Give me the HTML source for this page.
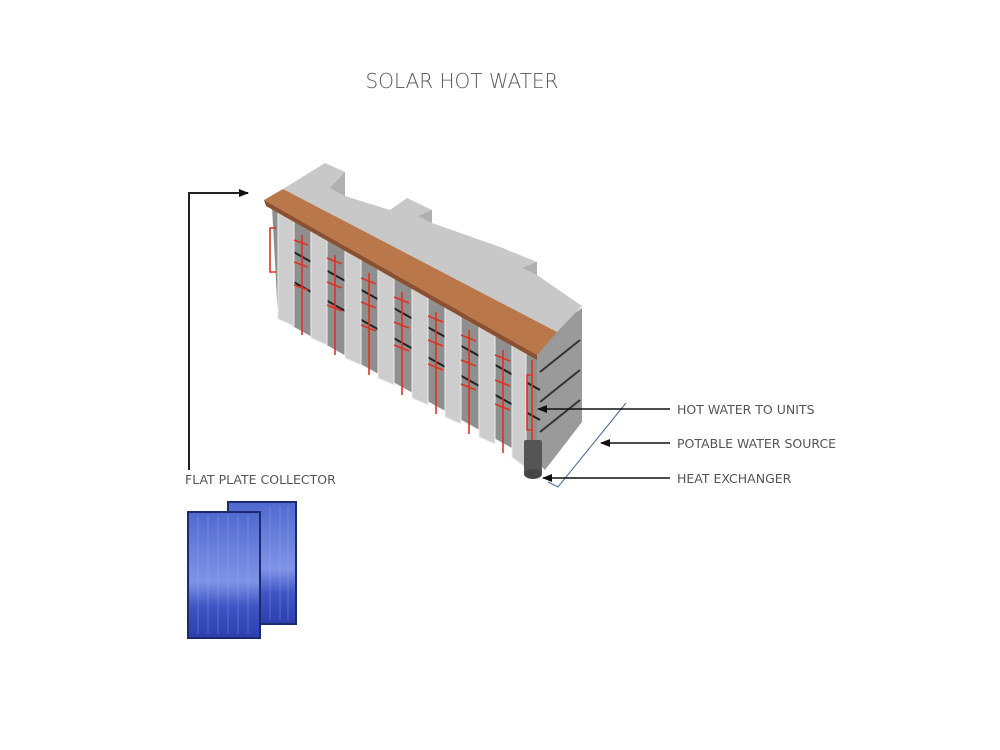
<!DOCTYPE html>
<html><head><meta charset="utf-8"><style>
html,body{margin:0;padding:0;background:#fff;}
svg{display:block}
text{font-family:"DejaVu Sans","Liberation Sans",sans-serif;fill:#555;}
</style></head><body>
<svg width="1000" height="750" viewBox="0 0 1000 750" xmlns="http://www.w3.org/2000/svg">
<defs>
<linearGradient id="pg" x1="0" y1="0" x2="0" y2="1">
<stop offset="0" stop-color="#5069d0"/><stop offset="0.55" stop-color="#7f93e6"/><stop offset="0.75" stop-color="#3e55c4"/><stop offset="1" stop-color="#2c3fae"/>
</linearGradient>
<marker id="ah" markerWidth="10" markerHeight="8" refX="9" refY="4" orient="auto" markerUnits="userSpaceOnUse"><path d="M0,0 L10,4 L0,8 Z" fill="#111"/></marker>
</defs>
<text x="462" y="88" font-size="20" text-anchor="middle" style="font-weight:300">SOLAR HOT WATER</text>

<polyline points="189,470 189,193 248,193" fill="none" stroke="#222" stroke-width="2" marker-end="url(#ah)"/>
<text x="185" y="484" font-size="12.5">FLAT PLATE COLLECTOR</text>

<polygon points="537,340 582,308 582,422 545,470 537,462" fill="#9a9a9a"/>
<polyline points="540,372 580,340" stroke="#333" stroke-width="2" fill="none"/>
<polyline points="540,402 580,370" stroke="#333" stroke-width="2" fill="none"/>
<polyline points="540,432 580,400" stroke="#333" stroke-width="2" fill="none"/>
<polygon points="283,189 325,163 345,172 345,196 390,210 407,198 432,210 432,223 500,247 537,262 537,275 582,306 557,332" fill="#c8c8c8"/>
<polygon points="345,172 345,196 330,188" fill="#b0b0b0"/>
<polygon points="432,210 432,223 418,216" fill="#b0b0b0"/>
<polygon points="537,262 537,275 522,268" fill="#b0b0b0"/>
<polygon points="272,207 537,355 537,462 278,318" fill="#8f8f8f"/>
<g stroke="#222" stroke-width="2">
<line x1="290" y1="250" x2="540" y2="390"/><line x1="290" y1="280" x2="540" y2="420"/>
</g>
<g fill="#cdcdcd" stroke="#ececec" stroke-width="1">
<polygon points="278,209 294,216 294,326 278,319"/>
<polygon points="311,227 327,234 327,345 311,338"/>
<polygon points="345,247 361,254 361,365 345,358"/>
<polygon points="378,265 394,272 394,385 378,378"/>
<polygon points="412,284 428,291 428,405 412,398"/>
<polygon points="445,303 461,310 461,424 445,417"/>
<polygon points="479,322 495,329 495,444 479,437"/>
<polygon points="512,341 526,347 526,468 512,457"/>
</g>
<g stroke="#e0321e" stroke-width="1.6" fill="none">
<polyline points="276,228 270,228 270,272 276,272"/>
<line x1="302" y1="235" x2="302" y2="335"/><line x1="294" y1="240" x2="308" y2="245"/><line x1="294" y1="262" x2="308" y2="267"/><line x1="294" y1="285" x2="308" y2="290"/>
<line x1="335" y1="255" x2="335" y2="355"/><line x1="327" y1="258" x2="342" y2="264"/><line x1="327" y1="282" x2="342" y2="288"/><line x1="327" y1="305" x2="342" y2="311"/>
<line x1="369" y1="273" x2="369" y2="375"/><line x1="361" y1="278" x2="376" y2="284"/><line x1="361" y1="302" x2="376" y2="308"/><line x1="361" y1="325" x2="376" y2="331"/>
<line x1="402" y1="292" x2="402" y2="395"/><line x1="394" y1="297" x2="409" y2="303"/><line x1="394" y1="322" x2="409" y2="328"/><line x1="394" y1="345" x2="409" y2="351"/>
<line x1="436" y1="312" x2="436" y2="414"/><line x1="428" y1="316" x2="443" y2="322"/><line x1="428" y1="340" x2="443" y2="346"/><line x1="428" y1="364" x2="443" y2="370"/>
<line x1="469" y1="330" x2="469" y2="434"/><line x1="461" y1="335" x2="476" y2="341"/><line x1="461" y1="360" x2="476" y2="366"/><line x1="461" y1="384" x2="476" y2="390"/>
<line x1="503" y1="350" x2="503" y2="453"/><line x1="495" y1="355" x2="510" y2="361"/><line x1="495" y1="380" x2="510" y2="386"/><line x1="495" y1="404" x2="510" y2="410"/>
<line x1="532" y1="360" x2="532" y2="470"/><polyline points="532,375 527,375 527,430 532,430"/>
</g>
<rect x="524" y="440" width="18" height="34" fill="#555" rx="2"/>
<ellipse cx="533" cy="474" rx="9" ry="5" fill="#444"/>
<polygon points="264,200 283,189 557,332 537,355" fill="#b9774a"/>
<polygon points="264,200 537,355 537,360 266,206" fill="#8a5030"/>
<polyline points="626,403 558,487 548,482" fill="none" stroke="#4a6a9a" stroke-width="1"/>
<g stroke="#111" stroke-width="1.6" marker-end="url(#ah)">
<line x1="670" y1="409" x2="538" y2="409"/>
<line x1="670" y1="443" x2="601" y2="443"/>
<line x1="670" y1="478" x2="543" y2="478"/>
</g>
<text x="677" y="414" font-size="12.5">HOT WATER TO UNITS</text>
<text x="677" y="448" font-size="12.5">POTABLE WATER SOURCE</text>
<text x="677" y="483" font-size="12.5">HEAT EXCHANGER</text>

<rect x="228" y="502" width="68" height="122" fill="url(#pg)" stroke="#1c2a70" stroke-width="2"/>
<rect x="188" y="512" width="72" height="126" fill="url(#pg)" stroke="#1c2a70" stroke-width="2"/>
<g stroke="#9aaaf0" stroke-width="0.6" opacity="0.6">
<line x1="198" y1="516" x2="198" y2="634"/><line x1="208" y1="516" x2="208" y2="634"/><line x1="218" y1="516" x2="218" y2="634"/><line x1="228" y1="516" x2="228" y2="634"/><line x1="238" y1="516" x2="238" y2="634"/><line x1="248" y1="516" x2="248" y2="634"/>
<line x1="270" y1="506" x2="270" y2="620"/><line x1="280" y1="506" x2="280" y2="620"/><line x1="288" y1="506" x2="288" y2="620"/>
</g>
</svg>
</body></html>
